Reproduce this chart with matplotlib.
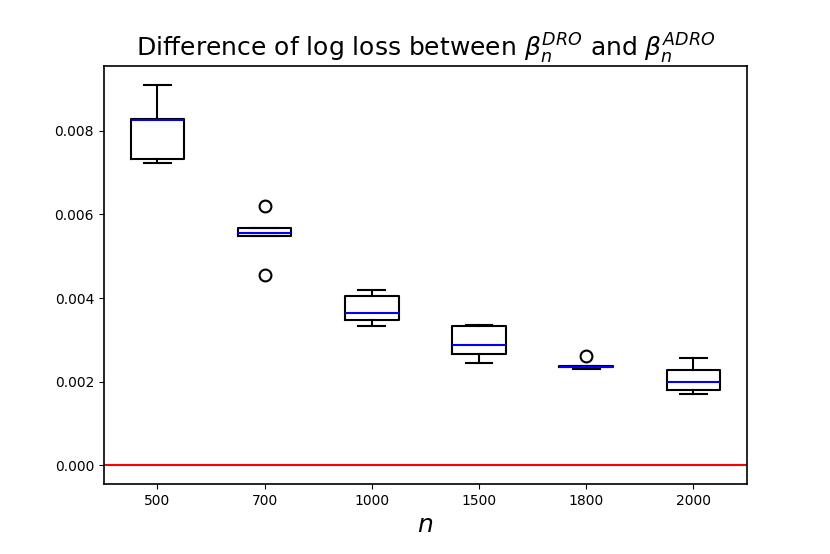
import matplotlib
matplotlib.use("Agg")
import matplotlib.pyplot as plt

# sample sizes and the log loss differences (5 runs each)
n_labels = ['500', '700', '1000', '1500', '1800', '2000']
diff_500 = [0.00723, 0.00733, 0.00826, 0.00829, 0.00910]
diff_700 = [0.00454, 0.00548, 0.00555, 0.00567, 0.00621]
diff_1000 = [0.00332, 0.00348, 0.00365, 0.00404, 0.00420]
diff_1500 = [0.00244, 0.00266, 0.00288, 0.00332, 0.00335]
diff_1800 = [0.00231, 0.00235, 0.00236, 0.00238, 0.00262]
diff_2000 = [0.00171, 0.00179, 0.00199, 0.00228, 0.00256]

data = [diff_500, diff_700, diff_1000, diff_1500, diff_1800, diff_2000]

fig, ax = plt.subplots(figsize=(8.3, 5.54), dpi=100)
fig.subplots_adjust(left=0.125, right=0.9, top=0.881, bottom=0.126)

ax.boxplot(data, tick_labels=n_labels,
           boxprops=dict(color='black', linewidth=1.5),
           whiskerprops=dict(color='black', linewidth=1.5),
           capprops=dict(color='black', linewidth=1.5),
           medianprops=dict(color='blue', linewidth=1.5),
           flierprops=dict(marker='o', markerfacecolor='none', markeredgecolor='black',
                           markersize=8.5, markeredgewidth=1.5))
ax.axhline(0, color='red', linewidth=1.5)

for s in ax.spines.values():
    s.set_linewidth(1.2)

ax.set_title(r'Difference of log loss between $\beta_n^{DRO}$ and $\beta_n^{ADRO}$', fontsize=18)
ax.set_xlabel(r'$n$', fontsize=18)

fig.savefig('out.png', dpi=100)
